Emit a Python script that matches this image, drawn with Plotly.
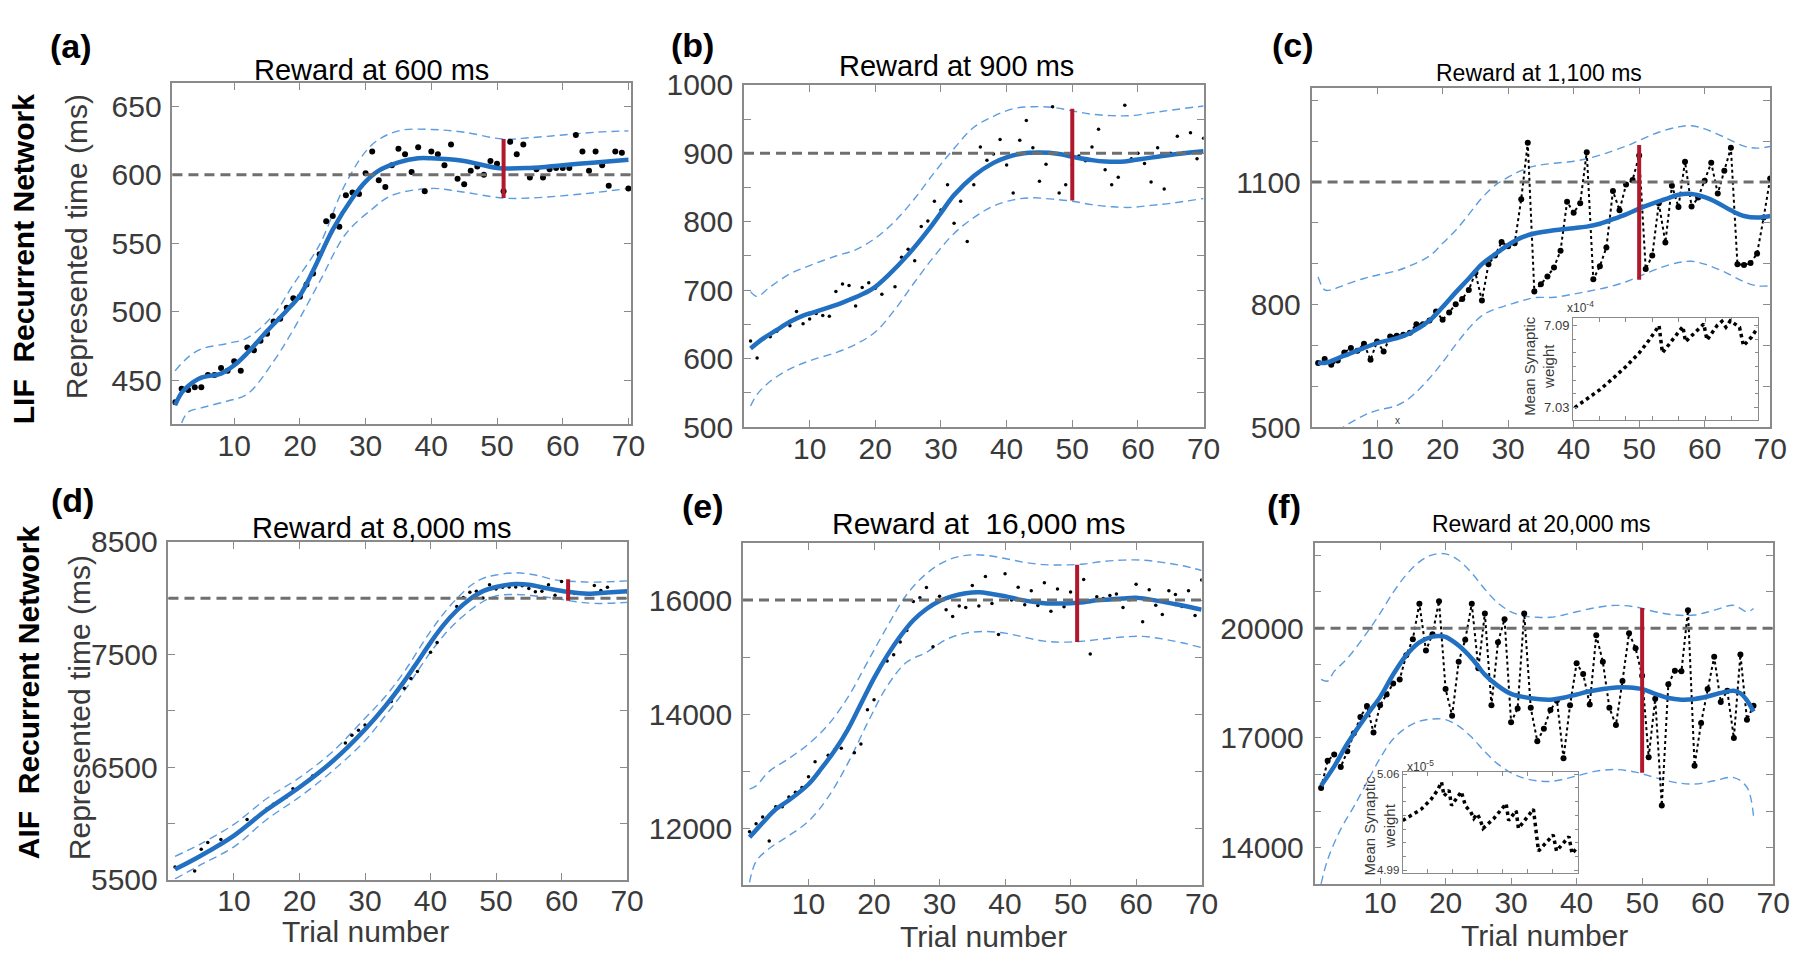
import plotly.graph_objects as go

W, H = 1800, 958
FONT = "Liberation Sans, Arial, sans-serif"

BLUE = "#2170c2"
CI_BLUE = "#5c9ce0"
REF_GRAY = "#6f6f6f"
RED = "#b0182c"
AXIS_GRAY = "#8a8a8a"
TXT = "#3a3a3a"

# ---------------- data ----------------
trials_70 = list(range(1, 71))
targets = [600, 900, 1100, 8000, 16000, 20000]

# (a) LIF, 600 ms
a_x = trials_70
a_y = [434, 444, 443, 445, 445, 454, 454, 459, 457, 464,
       457, 474, 472, 479, 484, 493, 495, 503, 510, 511,
       520, 528, 542, 566, 570, 562, 585, 587, 586, 601,
       617, 596, 591, 607, 619, 615, 602, 620, 588, 617,
       615, 607, 622, 597, 593, 603, 606, 600, 610, 608,
       588, 624, 615, 622, 598, 604, 598, 604, 605, 605,
       605, 629, 617, 603, 617, 607, 592, 617, 616, 590]
a_fit_x = [1, 2, 3, 5, 8, 10, 12, 15, 18, 20, 22, 25, 28, 30, 32, 35, 38, 40, 45, 50, 55, 60, 65, 70]
a_fit_y = [432, 441, 446, 452, 455, 461, 470, 486, 501, 512, 530, 560, 583, 595, 603, 609, 612, 612, 610, 605, 605, 607, 609, 611]
a_up_x = [1, 3, 5, 9, 12, 16, 19, 23, 27, 31, 35, 40, 45, 51, 55, 60, 65, 70]
a_up_y = [457, 467, 473, 477, 481, 498, 520, 549, 594, 622, 632, 633, 631, 626, 627, 629, 631, 632]
a_lo_x = [2, 3, 5, 9, 12, 16, 19, 23, 27, 31, 34, 40, 44, 51, 55, 63, 70]
a_lo_y = [419, 427, 430, 435, 440, 464, 487, 522, 557, 575, 585, 590, 588, 583, 583, 586, 590]

# (b) LIF, 900 ms
b_x = trials_70
b_y = [626, 601, 629, 632, 640, 649, 648, 669, 651, 658,
       666, 663, 662, 698, 709, 707, 677, 704, 711, 703,
       694, 722, 705, 748, 760, 743, 793, 801, 830, 817,
       854, 798, 830, 771, 854, 909, 890, 899, 920, 883,
       842, 919, 948, 908, 859, 884, 968, 842, 854, 883,
       896, 889, 909, 935, 876, 854, 865, 970, 892, 900,
       885, 858, 908, 848, 900, 925, 901, 930, 892, 922]
b_fit_x = [1, 3, 5, 7, 9, 10, 12, 15, 18, 20, 22, 25, 28, 30, 32, 35, 38, 40, 42, 45, 48, 50, 53, 55, 58, 60, 63, 66, 70]
b_fit_y = [615, 630, 642, 654, 663, 666, 672, 682, 694, 705, 722, 752, 787, 813, 839, 867, 886, 894, 899, 901, 899, 895, 890, 888, 888, 891, 895, 899, 903]
b_ci_x = [1, 2, 4, 7, 10, 14, 17, 20, 23, 26, 29, 32, 35, 38, 41, 44, 47, 50, 53, 56, 59, 62, 65, 70]
b_up_y = [698, 691, 705, 724, 736, 750, 759, 776, 801, 834, 872, 907, 938, 954, 965, 968, 967, 962, 957, 955, 955, 959, 963, 969]
b_lo_y = [531, 548, 567, 585, 597, 609, 621, 639, 672, 712, 750, 783, 806, 823, 832, 835, 833, 830, 825, 822, 821, 824, 827, 834]

# (c) LIF, 1,100 ms
c_x = trials_70
c_y = [657, 667, 653, 663, 683, 694, 687, 704, 665, 710,
       685, 722, 724, 726, 731, 752, 752, 761, 783, 763,
       781, 801, 814, 836, 878, 810, 899, 920, 953, 943,
       950, 1058, 1196, 832, 850, 869, 891, 932, 1052, 1025,
       1048, 1173, 862, 894, 940, 1078, 1031, 1094, 1105, 1165,
       887, 920, 1048, 952, 1091, 1039, 1150, 1040, 1062, 1103,
       1147, 1072, 1128, 1184, 899, 897, 902, 925, 1013, 1109]
c_fit_x = [1, 2, 5, 8, 10, 13, 15, 18, 20, 22, 24, 26, 28, 30, 32, 34, 37, 40, 42, 44, 46, 48, 50, 52, 54, 56, 58, 60, 62, 64, 66, 68, 70]
c_fit_y = [659, 657, 675, 694, 706, 718, 730, 761, 794, 830, 864, 899, 923, 946, 964, 974, 982, 987, 991, 998, 1009, 1021, 1035, 1047, 1058, 1069, 1071, 1063, 1049, 1031, 1017, 1013, 1017]
c_up_x = [1, 2, 3, 5, 8, 10, 13, 15, 18, 20, 22, 24, 26, 28, 30, 32, 34, 37, 40, 42, 45, 48, 50, 53, 56, 58, 60, 63, 66, 68, 70]
c_up_y = [868, 836, 836, 848, 864, 872, 883, 895, 919, 950, 982, 1021, 1061, 1092, 1112, 1128, 1139, 1146, 1151, 1157, 1171, 1188, 1202, 1222, 1235, 1238, 1230, 1210, 1188, 1183, 1187]
c_lo_x = [4, 5, 8, 10, 13, 15, 18, 20, 22, 24, 26, 28, 30, 32, 34, 37, 40, 42, 45, 48, 50, 53, 56, 58, 60, 63, 66, 68, 70]
c_lo_y = [490, 502, 529, 541, 553, 572, 620, 659, 702, 742, 773, 789, 799, 809, 817, 818, 826, 832, 842, 856, 869, 889, 903, 906, 899, 880, 856, 846, 846]

# (d) AIF, 8,000 ms
d_x = [1, 4, 5, 6, 8, 12, 15, 16, 18, 19, 22, 27, 28, 29, 30, 34, 36, 37, 38, 40,
       41, 43, 44, 45, 46, 47, 48, 49, 50, 51, 52, 53, 54, 55, 56, 57, 58, 59, 60, 61,
       62, 65, 66, 67, 70]
d_y = [5611, 5577, 5769, 5829, 5857, 6034, 6126, 6169, 6234, 6306, 6420, 6714, 6783, 6826, 6874,
       7083, 7200, 7286, 7349, 7520, 7606, 7834, 7926, 8006, 8054, 8063, 8003, 8120, 8083, 8097,
       8100, 8100, 8111, 8086, 8057, 8063, 8120, 8026, 8149, 8000, 8043, 8114, 8069, 8097, 8057]
d_fit_x = [1, 5, 10, 15, 20, 25, 30, 33, 36, 38, 40, 42, 44, 46, 48, 50, 53, 55, 58, 61, 64, 67, 70]
d_fit_y = [5591, 5714, 5891, 6120, 6320, 6549, 6834, 7034, 7263, 7434, 7606, 7763, 7891, 7991, 8063, 8100, 8126, 8120, 8086, 8057, 8040, 8051, 8063]
d_ci_x = [1, 5, 10, 15, 20, 25, 30, 33, 36, 40, 43, 46, 48, 50, 53, 56, 59, 62, 65, 70]
d_up_y = [5706, 5820, 5991, 6220, 6406, 6634, 6934, 7120, 7349, 7706, 7934, 8106, 8177, 8206, 8226, 8206, 8163, 8149, 8143, 8154]
d_lo_y = [5506, 5634, 5791, 6034, 6234, 6463, 6734, 6949, 7177, 7520, 7734, 7891, 7971, 8020, 8034, 8020, 8000, 7971, 7954, 7963]

# (e) AIF, 16,000 ms
e_x = list(range(1, 21)) + list(range(22, 51)) + list(range(52, 71))
e_y = [11938, 12079, 12197, 11775, 12377, 12377, 12546, 12631, 12715, 12901,
       13166, 13053, 13279, 13375, 13403, 13741, 13324, 13476, 14079, 14253,
       14930, 15042, 15262, 15465, 15972, 16039, 16220, 15183, 16068, 15831,
       15713, 15893, 15870, 16254, 15893, 16411, 15938, 15397, 16462, 16000,
       16225, 15915, 16163, 15904, 16304, 15803, 16192, 15882, 16141,
       16361, 15053, 16056, 16028, 16079, 16107, 15870, 16006, 16276, 15617,
       16180, 15910, 15746, 16163, 16096, 15887, 16163, 15730, 16349]
e_fit_x = [1, 3, 5, 7, 10, 12, 14, 16, 18, 20, 22, 24, 26, 28, 30, 32, 34, 36, 38, 40, 42, 44, 46, 48, 50, 52, 54, 56, 58, 60, 62, 64, 66, 68, 70]
e_fit_y = [11842, 12096, 12332, 12490, 12772, 13053, 13363, 13730, 14180, 14631, 15025, 15363, 15645, 15842, 15983, 16068, 16118, 16135, 16107, 16068, 16011, 15972, 15944, 15938, 15944, 15961, 15994, 16011, 16028, 16039, 16011, 15972, 15927, 15882, 15831]
e_ci_x = [1, 2, 4, 7, 10, 13, 16, 19, 22, 25, 28, 31, 34, 37, 40, 43, 46, 49, 52, 55, 58, 61, 64, 67, 70]
e_up_y = [12687, 12743, 12997, 13222, 13476, 13814, 14293, 14913, 15532, 16096, 16462, 16687, 16783, 16783, 16727, 16659, 16620, 16614, 16631, 16676, 16699, 16699, 16659, 16603, 16518]
e_lo_y = [11053, 11420, 11645, 11870, 12124, 12546, 13138, 13842, 14490, 14913, 15082, 15307, 15420, 15448, 15420, 15346, 15279, 15262, 15279, 15318, 15352, 15363, 15318, 15251, 15166]

# (f) AIF, 20,000 ms
f_x = list(range(1, 68))
f_y = [15636, 16375, 16551, 16208, 16639, 17132, 17572, 17871, 17149, 17897,
       18188, 18487, 18601, 19261, 19701, 20669, 19393, 19833, 20739, 18337,
       17607, 19085, 19683, 20669, 18909, 20405, 17897, 19613, 20246, 17431,
       17809, 20405, 17827, 16912, 17255, 17765, 18029, 16446, 17897, 19041,
       18751, 17915, 19806, 19085, 17827, 17352, 18557, 19859, 19455, 18700,
       16472, 18073, 15152, 18469, 18839, 18821, 20493, 16243, 17413, 18337,
       19217, 17985, 18290, 17000, 19279, 17501, 17880]
f_fit_x = [1, 3, 5, 8, 10, 12, 14, 16, 18, 19, 20, 22, 24, 26, 28, 30, 32, 34, 36, 38, 40, 42, 44, 46, 48, 50, 52, 54, 56, 58, 60, 62, 64, 65, 66, 67]
f_fit_y = [15698, 16226, 16842, 17633, 18117, 18733, 19261, 19613, 19771, 19789, 19762, 19525, 19173, 18733, 18425, 18205, 18117, 18064, 18047, 18100, 18188, 18276, 18337, 18381, 18381, 18337, 18205, 18091, 18047, 18064, 18135, 18232, 18293, 18223, 18029, 17721]
f_up_x = [1, 2, 3, 5, 8, 10, 12, 14, 16, 18, 20, 22, 24, 26, 28, 30, 32, 34, 36, 38, 40, 43, 46, 49, 52, 55, 58, 61, 64, 66, 67]
f_up_y = [18601, 18557, 18821, 19173, 19877, 20405, 20977, 21460, 21812, 22006, 22032, 21856, 21504, 21065, 20686, 20449, 20334, 20299, 20299, 20361, 20449, 20563, 20625, 20581, 20449, 20361, 20361, 20493, 20625, 20449, 20537]
f_lo_x = [1, 2, 4, 6, 8, 10, 12, 14, 16, 18, 20, 22, 24, 26, 28, 30, 32, 34, 36, 38, 40, 43, 46, 49, 52, 55, 58, 61, 64, 66, 67]
f_lo_y = [13014, 13674, 14510, 15126, 15786, 16446, 16973, 17281, 17457, 17519, 17501, 17325, 17017, 16622, 16287, 16050, 15900, 15830, 15812, 15874, 15962, 16094, 16138, 16067, 15918, 15786, 15742, 15830, 15918, 15654, 14862]

# red variability bars: trial, low, high
bar_trial = [51, 50, 50, 61, 51, 50]
bar_low = [583, 831, 861, 7977, 15262, 16050]
bar_high = [626, 965, 1191, 8169, 16620, 20554]

# insets: mean synaptic weight (x10^-4 in c, x10^-5 in f)
c_in_x = [0.6, 5, 10, 15, 20, 25, 28.75, 32.5, 33.75, 37.5, 41.5, 42.5, 46.9, 49.4, 50.6, 52.5, 54.4, 56.25, 57.75, 59.4, 61, 62.9, 64.4, 67.5, 69.75]
c_in_y = [7.030, 7.0359, 7.0429, 7.0512, 7.0601, 7.0700, 7.0794, 7.0900, 7.0700, 7.0794, 7.0893, 7.0782, 7.0869, 7.0912, 7.0794, 7.0846, 7.0900, 7.0931, 7.0888, 7.0935, 7.0912, 7.0888, 7.0752, 7.0818, 7.0884]
f_in_x = [0, 3.3, 7.3, 11.2, 13.9, 15.5, 16.5, 18.5, 19.5, 23.4, 25.1, 27.1, 28.4, 29.7, 30.8, 32.1, 36.3, 41.3, 42.3, 45.3, 46.2, 52.2, 54.2, 60.1, 61.4, 66.4, 67.6, 69.6]
f_in_y = [5.0262, 5.0297, 5.0343, 5.0413, 5.0483, 5.0542, 5.0441, 5.0483, 5.0371, 5.0472, 5.0367, 5.0327, 5.0278, 5.0310, 5.0275, 5.0205, 5.0275, 5.0385, 5.0263, 5.0333, 5.0205, 5.0345, 5.0040, 5.0157, 5.0040, 5.0145, 5.0021, 5.0063]

x_ticks = [10, 20, 30, 40, 50, 60, 70]


def px(x):
    return x / W


def py(y):
    return 1 - y / H


# panel boxes in pixels (left, right, top, bottom) and axis settings
panels = [
    dict(box=(166, 629, 60, 414), xr=[0.6, 70.4], yr=[418, 667], ytv=[450, 500, 550, 600, 650], minor=None, xso=-6,
         sx=a_x, sy=a_y, fx=a_fit_x, fy=a_fit_y, ux=a_up_x, uy=a_up_y, lx=a_lo_x, ly=a_lo_y, ms=6, joined=False),
    dict(box=(743, 1207, 62, 417), xr=[0, 70], yr=[500, 1000], ytv=[500, 600, 700, 800, 900, 1000], minor=(500, 50), xso=-6,
         sx=b_x, sy=b_y, fx=b_fit_x, fy=b_fit_y, ux=b_ci_x, uy=b_up_y, lx=b_ci_x, ly=b_lo_y, ms=3.5, joined=False),
    dict(box=(1316, 1779, 65, 417), xr=[0, 70], yr=[500, 1331], ytv=[500, 800, 1100], minor=(500, 100), xso=-6,
         sx=c_x, sy=c_y, fx=c_fit_x, fy=c_fit_y, ux=c_up_x, uy=c_up_y, lx=c_lo_x, ly=c_lo_y, ms=6, joined=True),
    dict(box=(162, 625, 536, 886), xr=[0, 70], yr=[5500, 8500], ytv=[5500, 6500, 7500, 8500], minor=(5500, 500), xso=-6,
         sx=d_x, sy=d_y, fx=d_fit_x, fy=d_fit_y, ux=d_ci_x, uy=d_up_y, lx=d_ci_x, ly=d_lo_y, ms=3.5, joined=False),
    dict(box=(742, 1205, 537, 892), xr=[0, 70], yr=[11000, 17000], ytv=[12000, 14000, 16000], minor=(11000, 1000), xso=-9,
         sx=e_x, sy=e_y, fx=e_fit_x, fy=e_fit_y, ux=e_ci_x, uy=e_up_y, lx=e_ci_x, ly=e_lo_y, ms=3.5, joined=False),
    dict(box=(1319, 1782, 537, 891), xr=[0, 70], yr=[13000, 22330], ytv=[14000, 17000, 20000], minor=(13000, 1000), xso=-9,
         sx=f_x, sy=f_y, fx=f_fit_x, fy=f_fit_y, ux=f_up_x, uy=f_up_y, lx=f_lo_x, ly=f_lo_y, ms=6, joined=True),
]

fig = go.Figure()
layout = {}
shapes = []

frame = dict(showline=True, linecolor=AXIS_GRAY, linewidth=1.5, mirror="ticks", ticks="inside",
             ticklen=7, tickwidth=1.2, tickcolor=AXIS_GRAY, showgrid=False, zeroline=False,
             tickfont=dict(family=FONT, size=30, color=TXT))

for i, p in enumerate(panels, start=1):
    s = "" if i == 1 else str(i)
    l, r, t, b = p["box"]
    layout["xaxis" + s] = dict(domain=[px(l), px(r)], range=p["xr"], anchor="y" + s,
                               tickmode="array", tickvals=x_ticks, ticklabelstandoff=p["xso"], **frame)
    yax = dict(domain=[py(b), py(t)], range=p["yr"], anchor="x" + s, tickmode="array",
               tickvals=p["ytv"], ticktext=[str(v) for v in p["ytv"]], ticklabelstandoff=3, **frame)
    if p["minor"]:
        yax["minor"] = dict(ticks="inside", tick0=p["minor"][0], dtick=p["minor"][1], ticklen=7,
                            tickcolor=AXIS_GRAY, tickwidth=1.2)
    layout["yaxis" + s] = yax
    xa, ya = "x" + s, "y" + s

    # confidence band (dashed)
    for cx, cy in ((p["ux"], p["uy"]), (p["lx"], p["ly"])):
        fig.add_trace(go.Scatter(x=cx, y=cy, mode="lines", xaxis=xa, yaxis=ya,
                                 line=dict(color=CI_BLUE, width=1.4, dash="8px,5px", shape="spline", smoothing=1)))
    # data
    if p["joined"]:
        fig.add_trace(go.Scatter(x=p["sx"], y=p["sy"], mode="lines+markers", xaxis=xa, yaxis=ya,
                                 line=dict(color="black", width=2, dash="dot"),
                                 marker=dict(color="black", size=p["ms"])))
    else:
        fig.add_trace(go.Scatter(x=p["sx"], y=p["sy"], mode="markers", xaxis=xa, yaxis=ya,
                                 marker=dict(color="black", size=p["ms"])))
    # fitted curve
    fig.add_trace(go.Scatter(x=p["fx"], y=p["fy"], mode="lines", xaxis=xa, yaxis=ya,
                             line=dict(color=BLUE, width=4.5, shape="spline", smoothing=1)))
    # reward target
    shapes.append(dict(type="line", xref=xa + " domain", yref=ya, x0=0, x1=1,
                       y0=targets[i - 1], y1=targets[i - 1],
                       line=dict(color=REF_GRAY, width=3, dash="10px,6px")))
    # red variability bar
    shapes.append(dict(type="line", xref=xa, yref=ya, x0=bar_trial[i - 1], x1=bar_trial[i - 1],
                       y0=bar_low[i - 1], y1=bar_high[i - 1], line=dict(color=RED, width=4)))

# insets
inset_frame = dict(showline=True, linecolor=AXIS_GRAY, linewidth=1.2, mirror="ticks", ticks="inside",
                   ticklen=4, tickwidth=1, tickcolor=AXIS_GRAY, showgrid=False, zeroline=False)
insets = [
    dict(box=(1580, 1767, 304, 410), yr=[7.0206, 7.0954], ytv=[7.03, 7.09], fs=13, xs=c_in_x, ys=c_in_y),
    dict(box=(1408, 1585, 774, 879), yr=[4.9881, 5.0619], ytv=[4.99, 5.06], fs=11.5, xs=f_in_x, ys=f_in_y),
]
for j, q in enumerate(insets, start=7):
    s = str(j)
    l, r, t, b = q["box"]
    layout["xaxis" + s] = dict(domain=[px(l), px(r)], range=[0, 70], anchor="y" + s, dtick=10,
                               showticklabels=False, **inset_frame)
    layout["yaxis" + s] = dict(domain=[py(b), py(t)], range=q["yr"], anchor="x" + s, tickmode="array",
                               tickvals=q["ytv"], ticktext=["%.2f" % v for v in q["ytv"]],
                               minor=dict(ticks="inside", dtick=0.01, ticklen=3, tickcolor=AXIS_GRAY),
                               tickfont=dict(family=FONT, size=q["fs"], color=TXT), ticklabelstandoff=0,
                               **inset_frame)
    fig.add_trace(go.Scatter(x=q["xs"], y=q["ys"], mode="lines", xaxis="x" + s, yaxis="y" + s,
                             line=dict(color="black", width=3.5, dash="dot")))

# text
ann = []


def text(s, x, y, size, color="black", angle=0, bold=False):
    if bold:
        s = "<b>" + s + "</b>"
    ann.append(dict(text=s, x=px(x), y=py(y), xref="paper", yref="paper", showarrow=False,
                    xanchor="center", yanchor="middle", textangle=angle,
                    font=dict(family=FONT, size=size, color=color)))


for lab, x, y in [("(a)", 64, 22), ("(b)", 691, 21), ("(c)", 1297, 21),
                  ("(d)", 65, 492), ("(e)", 702, 499), ("(f)", 1288, 499)]:
    text(lab, x, y, 34, bold=True)

for ttl, x, y, size in [("Reward at 600 ms", 367, 47, 29),
                        ("Reward at 900 ms", 958, 43, 29),
                        ("Reward at 1,100 ms", 1546, 50, 23),
                        ("Reward at 8,000 ms", 378, 521, 29),
                        ("Reward at\u00a0\u00a016,000 ms", 980, 517, 30),
                        ("Reward at 20,000 ms", 1548, 517, 23)]:
    text(ttl, x, y, size)

text("LIF\u00a0\u00a0Recurrent Network", 16, 243, 30, angle=-90, bold=True)
text("AIF\u00a0\u00a0Recurrent Network", 21, 692, 30, angle=-90, bold=True)
text("Represented time (ms)", 69, 230, 30, color=TXT, angle=-90)
text("Represented time (ms)", 73, 708, 30, color=TXT, angle=-90)
for x, y in [(361, 940), (985, 945), (1551, 944)]:
    text("Trial number", x, y, 30, color=TXT)

text("Mean Synaptic<br>weight", 1546, 353, 15, color=TXT, angle=-90)
text("x10<sup>-4</sup>", 1587, 292, 12, color=TXT)
text("Mean Synaptic<br>weight", 1385, 830, 15, color=TXT, angle=-90)
text("x10<sup>-5</sup>", 1426, 768, 12, color=TXT)
text("x", 1403, 410, 10, color=TXT)

fig.update_layout(width=W, height=H, margin=dict(l=0, r=0, t=0, b=0), showlegend=False,
                  paper_bgcolor="white", plot_bgcolor="rgba(0,0,0,0)",
                  annotations=ann, shapes=shapes, **layout)

fig.write_html("out.html")
